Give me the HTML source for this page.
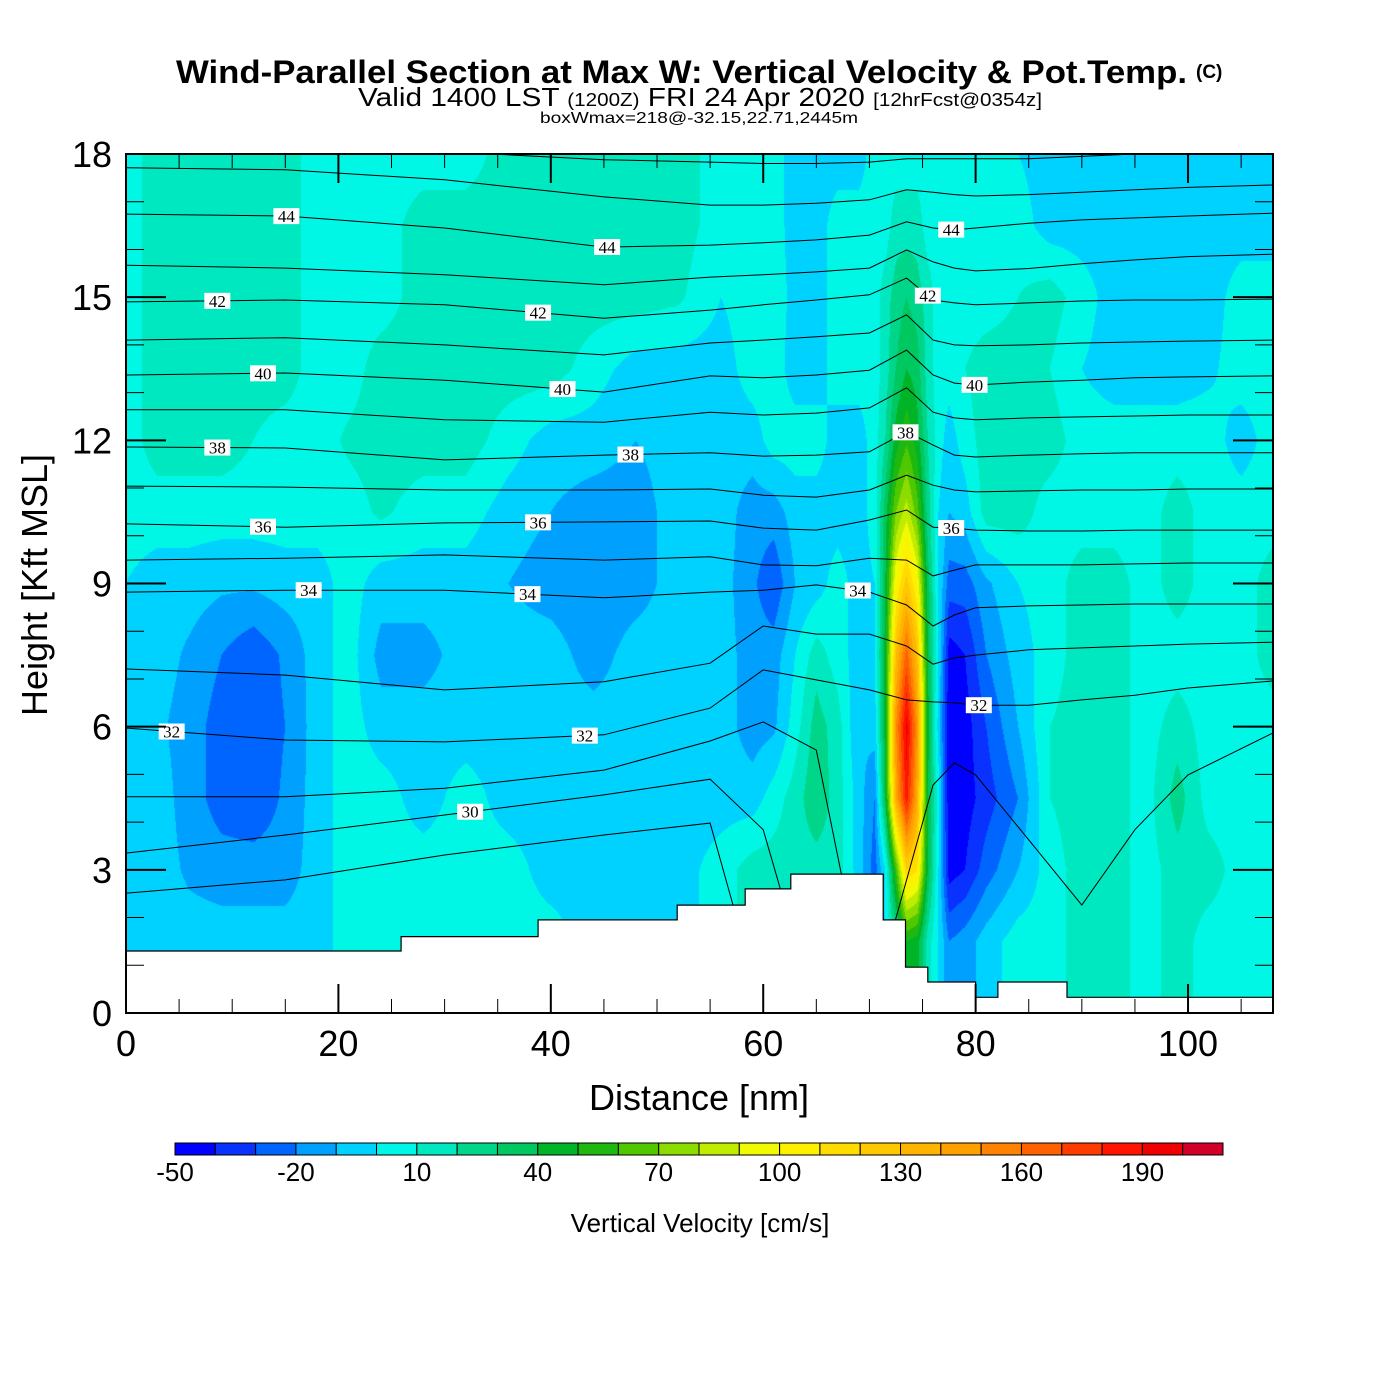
<!DOCTYPE html>
<html><head><meta charset="utf-8"><title>Wind-Parallel Section</title>
<style>
html,body{margin:0;padding:0;background:#fff;}
#wrap{position:relative;width:1400px;height:1400px;overflow:hidden;background:#fff;}
#field{position:absolute;left:126px;top:154px;}
#ov{position:absolute;left:0;top:0;}
text{font-family:"Liberation Sans",sans-serif;}
</style></head>
<body>
<div id="wrap">
<canvas id="field" width="1147" height="859"></canvas>
<svg id="ov" width="1400" height="1400" xmlns="http://www.w3.org/2000/svg">
<defs><clipPath id="pc"><rect x="126" y="154" width="1147" height="859"/></clipPath></defs>
<text x="176" y="83" font-size="32" font-weight="bold" textLength="1011" lengthAdjust="spacingAndGlyphs">Wind-Parallel Section at Max W: Vertical Velocity &amp; Pot.Temp.</text>
<text x="1196" y="78" font-size="19" font-weight="bold">(C)</text>
<text x="358" y="106" font-size="26" textLength="684" lengthAdjust="spacingAndGlyphs">Valid 1400 LST <tspan font-size="18">(1200Z)</tspan> FRI 24 Apr 2020 <tspan font-size="18">[12hrFcst@0354z]</tspan></text>
<text x="540" y="123" font-size="16" textLength="318" lengthAdjust="spacingAndGlyphs">boxWmax=218@-32.15,22.71,2445m</text>
<g id="lines" clip-path="url(#pc)"></g>
<g id="terrain"></g>
<g id="labels"></g>
<rect x="126" y="154" width="1147" height="859" fill="none" stroke="#000" stroke-width="2"/>
<g id="axes"></g>
<text x="699" y="1110" font-size="36" text-anchor="middle">Distance [nm]</text>
<text x="0" y="0" font-size="36" text-anchor="middle" transform="translate(47,585) rotate(-90)">Height [Kft MSL]</text>
<g id="cbar"></g>
<text x="700" y="1232" font-size="26" text-anchor="middle">Vertical Velocity [cm/s]</text>
</svg>
</div>
<script>
// ---- data ----
const gridX = [0,3,6,9,12,15,18,21,24,28,32,36,40,44,48,52,56,59,61,63,65,67,69,70.5,71.5,72.5,73.5,74.5,75.5,76.5,77.5,79,81,84,87,90,93,96,99,102,105,108];
const gridH = [0,1.5,3,4.5,6,7.5,9,10.5,12,13.5,15,16.5,18];
const w00 = [-5,-5,-5,-5,-5,-5,-5,5,5,5,5,5,5,-5,-5,-5,5,15,15,15,15,15,15,0,0,20,50,45,15,0,-20,-15,-5,5,5,15,15,5,15,5,5,5];
const w015 = [-5,-5,-5,-5,-5,-5,-5,5,5,5,5,5,5,-5,-5,-5,5,15,15,15,15,15,15,0,0,20,50,45,15,0,-20,-15,-5,5,5,15,15,5,15,5,5,5];
const w030 = [-5,-5,-12,-15,-15,-15,-5,5,5,5,5,5,-5,-5,-5,-5,5,15,15,15,15,15,-5,-25,0,60,120,110,40,0,-45,-40,-25,-10,5,15,15,5,15,15,5,5];
const w045 = [-5,-5,-15,-25,-28,-18,-5,5,5,-5,5,-5,-5,-5,-5,-5,-5,-5,5,15,28,15,-5,-20,40,140,185,140,40,5,-48,-45,-35,-20,10,15,15,5,25,5,5,5];
const w060 = [-5,-8,-15,-25,-28,-20,-5,5,-5,-5,-5,-5,-5,-5,-5,-5,-5,-15,-12,5,25,15,-10,-5,45,150,195,150,45,-5,-48,-45,-30,-10,10,15,15,5,15,5,5,5];
const w075 = [-5,-5,-12,-20,-28,-18,-5,5,-14,-14,-5,-5,-5,-15,-5,-5,-5,-15,-15,0,15,5,-5,0,45,130,165,130,40,0,-45,-40,-20,-5,5,15,15,5,5,5,5,15];
const w090 = [0,-5,-5,-8,-8,-5,-5,5,-5,-5,-5,-10,-15,-18,-15,-5,-5,-18,-28,-10,-5,5,-5,0,40,100,125,100,35,0,-25,-25,-12,0,5,15,15,5,15,5,5,15];
const w105 = [5,5,5,5,5,5,5,5,12,5,5,-5,-10,-15,-15,-5,-5,-15,-15,-5,-5,-5,-5,5,35,70,85,65,25,0,-10,-5,15,15,5,5,5,5,15,5,5,5];
const w120 = [5,15,15,15,10,5,5,12,15,15,15,5,-5,-5,-10,-5,-5,-5,5,5,5,-5,-5,5,20,45,58,45,20,5,-5,5,15,15,15,5,5,5,5,5,-5,5];
const w135 = [5,15,15,15,15,15,5,5,15,15,15,15,15,5,-5,-5,-5,5,5,-5,-5,5,5,5,15,30,40,35,15,5,5,10,15,15,10,0,-5,-5,-5,-2,5,5];
const w150 = [5,15,15,15,15,15,5,5,5,15,15,15,15,15,15,12,0,5,5,-3,-5,5,5,5,15,25,30,25,15,5,5,5,5,10,15,5,-5,-5,-5,-5,5,5];
const w165 = [5,15,15,15,15,15,5,5,5,15,15,15,15,15,15,15,5,5,5,-5,-5,5,5,5,5,15,15,15,5,5,5,5,5,5,-5,-5,-5,-5,-5,-5,-5,-5];
const w180 = [5,15,15,15,15,15,5,5,5,5,5,15,15,15,15,15,5,5,5,-5,-5,-5,-5,5,5,5,5,5,5,5,5,5,5,0,-5,-5,-5,-5,-5,-5,-5,-5];
const wRows = [w00,w015,w030,w045,w060,w075,w090,w105,w120,w135,w150,w165,w180];

const cbarColors = ['#0000ff','#0a32ff','#0064ff','#00a0ff','#00d2ff','#00f7e6','#00e8bf','#00d68a','#00c860','#00b428','#20b810','#50c800','#8cdc00','#c0ec00','#f0fa00','#fff000','#ffdc00','#ffc800','#ffb400','#ffa000','#ff8200','#ff6000','#ff3c00','#ff1400','#f00000','#d20028'];
const cbarTickValues = [-50,-20,10,40,70,100,130,160,190];

const terrStart = [0,25.9,38.8,51.9,58.3,62.6,71.3,73.4,75.5,80,82.1,88.6];
const terrEnd   = [25.9,38.8,51.9,58.3,62.6,71.3,73.4,75.5,80,82.1,88.6,108];
const terrHeight= [1.3,1.6,1.95,2.26,2.6,2.91,1.95,0.96,0.65,0.33,0.65,0.33];

const thetaX = [0,15,30,45,55,60,65,70,73.5,76,78,80,85,90,95,100,108];
const th29 = [2.51,2.79,3.31,3.73,3.98,0,null,null,null,null,null,null,null,null,null,null,null];
const th30 = [3.35,3.73,4.15,4.57,4.90,3.84,0,null,null,null,null,null,null,null,null,null,null];
const th31 = [4.53,4.53,4.71,5.09,5.70,6.10,5.51,0,2.79,4.78,5.24,4.99,3.63,2.26,3.84,4.99,5.87];
const th32 = [5.97,5.72,5.68,5.83,6.39,7.19,6.98,6.77,6.56,6.52,6.50,6.45,6.45,6.56,6.66,6.81,6.96];
const th33 = [7.21,7.08,6.77,6.94,7.33,8.11,7.94,7.94,7.69,7.31,7.44,7.50,7.61,7.65,7.69,7.73,7.77];
const th34 = [8.82,8.86,8.86,8.70,8.82,8.86,8.97,8.82,8.55,8.11,8.34,8.49,8.53,8.55,8.57,8.57,8.57];
const th35 = [9.49,9.53,9.60,9.49,9.56,9.39,9.37,9.53,9.49,9.16,9.28,9.39,9.39,9.39,9.41,9.43,9.43];
const th36 = [10.25,10.18,10.27,10.29,10.31,10.16,10.12,10.33,10.54,10.18,10.16,10.12,10.10,10.10,10.12,10.12,10.12];
const th37 = [11.04,11.02,10.96,10.96,10.98,10.85,10.81,10.96,11.27,11.06,10.96,10.92,10.94,10.96,10.96,10.98,10.98];
const th38 = [11.86,11.84,11.59,11.69,11.74,11.67,11.69,11.76,12.18,11.90,11.69,11.65,11.69,11.72,11.74,11.74,11.74];
const th39 = [12.64,12.64,12.43,12.38,12.59,12.53,12.57,12.68,13.10,12.59,12.47,12.43,12.47,12.49,12.51,12.53,12.53];
const th40 = [13.37,13.41,13.26,13.01,13.35,13.31,13.37,13.47,13.89,13.37,13.20,13.16,13.22,13.26,13.31,13.33,13.35];
const th41 = [14.10,14.15,14.00,13.79,14.04,14.10,14.17,14.25,14.63,14.10,14.00,13.98,14.00,14.04,14.06,14.08,14.10];
const th42 = [14.90,14.94,14.84,14.56,14.73,14.84,14.94,15.05,15.40,14.94,14.88,14.84,14.88,14.92,14.94,14.94,14.96];
const th43 = [15.67,15.61,15.47,15.26,15.42,15.47,15.53,15.61,15.99,15.74,15.61,15.55,15.60,15.70,15.78,15.85,15.90];
const th44 = [16.74,16.70,16.45,16.05,16.09,16.14,16.20,16.30,16.58,16.45,16.41,16.45,16.55,16.62,16.66,16.70,16.76];
const th45 = [17.71,17.67,17.46,17.10,16.93,16.93,16.97,17.04,17.25,17.20,17.15,17.12,17.15,17.20,17.25,17.30,17.35];
const th46 = [18.10,18.10,18.05,17.88,17.83,17.80,17.80,17.83,17.90,17.90,17.90,17.90,17.90,17.95,18.00,18.05,18.10];
const thetaLevels = [29,30,31,32,33,34,35,36,37,38,39,40,41,42,43,44,45,46];
const thetaLines = [th29,th30,th31,th32,th33,th34,th35,th36,th37,th38,th39,th40,th41,th42,th43,th44,th45,th46];

const labelLevel = [44,44,44,42,42,42,40,40,40,38,38,38,36,36,36,34,34,34,32,32,32,30];
const labelDist  = [15.1,45.3,77.7,8.6,38.8,75.5,12.9,41.1,79.9,8.6,47.5,73.4,12.9,38.8,77.7,17.2,37.8,68.9,4.3,43.2,80.3,32.4];

const xTickValues = [0,20,40,60,80,100];
const yTickValues = [0,3,6,9,12,15,18];

// ---- scales ----
const PL=126, PT=154, PW=1147, PH=859, XMAX=108, YMAX=18;
function X(nm){return PL+nm*PW/XMAX;}
function Y(h){return PT+PH-h*PH/YMAX;}
const NS='http://www.w3.org/2000/svg';
function mk(tag,attrs,parent){const e=document.createElementNS(NS,tag);for(const k in attrs)e.setAttribute(k,attrs[k]);parent.appendChild(e);return e;}

// ---- field ----
(function(){
  const cv=document.getElementById('field');const ctx=cv.getContext('2d');
  const img=ctx.createImageData(PW,PH);
  const rgb=cbarColors.map(c=>[parseInt(c.substr(1,2),16),parseInt(c.substr(3,2),16),parseInt(c.substr(5,2),16)]);
  const colJ=[],colT=[];
  for(let px=0;px<PW;px++){
    const nm=(px+0.5)/PW*XMAX;let j=0;
    while(j<gridX.length-2&&nm>gridX[j+1])j++;
    colJ.push(j);colT.push(Math.min(1,Math.max(0,(nm-gridX[j])/(gridX[j+1]-gridX[j]))));
  }
  for(let py=0;py<PH;py++){
    const h=YMAX-(py+0.5)/PH*YMAX;let k=0;
    while(k<gridH.length-2&&h>gridH[k+1])k++;
    const u=Math.min(1,Math.max(0,(h-gridH[k])/(gridH[k+1]-gridH[k])));
    const r0=wRows[k],r1=wRows[k+1];
    for(let px=0;px<PW;px++){
      const j=colJ[px],t=colT[px];
      const a=r0[j]*(1-t)+r0[j+1]*t,b=r1[j]*(1-t)+r1[j+1]*t;
      const v=a*(1-u)+b*u;
      let c=Math.floor((v+50)/10);if(c<0)c=0;if(c>25)c=25;
      const o=(py*PW+px)*4;img.data[o]=rgb[c][0];img.data[o+1]=rgb[c][1];img.data[o+2]=rgb[c][2];img.data[o+3]=255;
    }
  }
  ctx.putImageData(img,0,0);
})();

// ---- theta contours ----
const gL=document.getElementById('lines');
thetaLines.forEach((arr,i)=>{
  let d='',pen=false;
  arr.forEach((h,k)=>{
    if(h===null){pen=false;return;}
    d+=(pen?'L':'M')+X(thetaX[k]).toFixed(1)+','+Y(h).toFixed(1)+' ';pen=true;
  });
  const p=mk('path',{d:d,fill:'none',stroke:'#000','stroke-width':1},gL);
  
  
});

// ---- terrain ----
(function(){
  const g=document.getElementById('terrain');
  let d='M'+X(0)+','+Y(0)+' ';
  terrStart.forEach((x0,i)=>{d+='L'+X(x0).toFixed(1)+','+Y(terrHeight[i]).toFixed(1)+' L'+X(terrEnd[i]).toFixed(1)+','+Y(terrHeight[i]).toFixed(1)+' ';});
  d+='L'+X(XMAX)+','+Y(0)+' Z';
  const p=mk('path',{d:d,fill:'#fff',stroke:'#000','stroke-width':1.2},g);
  
  
})();

// ---- contour labels ----
function lineY(arr,nm){
  for(let k=0;k<thetaX.length-1;k++){
    if(nm>=thetaX[k]&&nm<=thetaX[k+1]&&arr[k]!==null&&arr[k+1]!==null){
      const t=(nm-thetaX[k])/(thetaX[k+1]-thetaX[k]);return arr[k]*(1-t)+arr[k+1]*t;}
  }
  return arr[0];
}
(function(){
  const g=document.getElementById('labels');
  labelLevel.forEach((lv,i)=>{
    const arr=thetaLines[thetaLevels.indexOf(lv)];
    const cx=X(labelDist[i]),cy=Y(lineY(arr,labelDist[i]));
    const r=mk('rect',{x:cx-13,y:cy-8,width:26,height:16,fill:'#fff'},g);
    
    
    const t=mk('text',{x:cx,y:cy+6,'font-size':17,'text-anchor':'middle',style:'font-family:"Liberation Serif",serif'},g);
    t.textContent=lv;
    
    
  });
})();

// ---- axes ----
(function(){
  const g=document.getElementById('axes');
  for(let h=0;h<=18;h++){
    const major=h%3===0,len=major?40:18,y=Y(h);
    const a=mk('line',{x1:PL,y1:y,x2:PL+len,y2:y,stroke:'#000','stroke-width':major?2:1},g);
    
    
    const b=mk('line',{x1:PL+PW,y1:y,x2:PL+PW-len,y2:y,stroke:'#000','stroke-width':major?2:1},g);
    
    
  }
  yTickValues.forEach(v=>{
    const t=mk('text',{x:112,y:Y(v)+13,'font-size':36,'text-anchor':'end'},g);
    t.textContent=v;
    
    
  });
  for(let n=0;n<=105;n+=5){
    const major=n%20===0,len=major?29:14,x=X(n);
    const a=mk('line',{x1:x,y1:PT+PH,x2:x,y2:PT+PH-len,stroke:'#000','stroke-width':major?2:1},g);
    
    
    const b=mk('line',{x1:x,y1:PT,x2:x,y2:PT+len,stroke:'#000','stroke-width':major?2:1},g);
    
    
  }
  xTickValues.forEach(v=>{
    const t=mk('text',{x:X(v),y:1056,'font-size':36,'text-anchor':'middle'},g);
    t.textContent=v;
    
    
  });
})();

// ---- colorbar ----
(function(){
  const g=document.getElementById('cbar');
  const x0=175,cw=1048/cbarColors.length;
  cbarColors.forEach((c,i)=>{
    const r=mk('rect',{x:x0+i*cw,y:1143,width:cw,height:12,fill:c,stroke:'#000','stroke-width':1},g);
    
    
  });
  cbarTickValues.forEach(v=>{
    const t=mk('text',{x:x0+(v+50)/10*cw,y:1181,'font-size':26,'text-anchor':'middle'},g);
    t.textContent=v;
    
    
  });
})();
</script>
</body></html>
